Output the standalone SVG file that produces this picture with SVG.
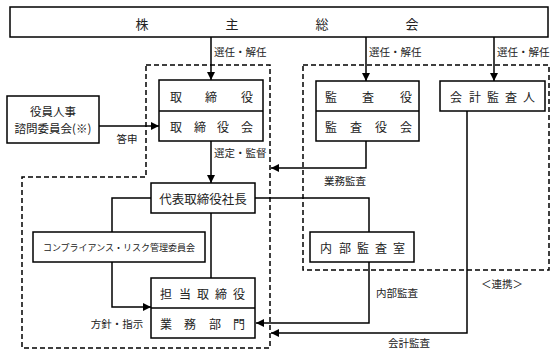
<svg xmlns="http://www.w3.org/2000/svg" width="560" height="355" viewBox="0 0 560 355">
<defs>
<marker id="ah" markerUnits="userSpaceOnUse" markerWidth="8" markerHeight="8" viewBox="0 0 8 8" refX="8" refY="4" orient="auto">
<path d="M0,0 L8,4 L0,8 Z" fill="#000"/>
</marker>
<style>
.box{fill:#fff;stroke:#000;stroke-width:1.5}
.dash{fill:none;stroke:#000;stroke-width:1.5;stroke-dasharray:5 3}
.ln{fill:none;stroke:#000;stroke-width:1.5}
.arr{fill:none;stroke:#000;stroke-width:1.5;marker-end:url(#ah)}
text{font-family:"Noto Sans CJK JP","Noto Sans CJK SC",sans-serif;fill:#222;dominant-baseline:central}
.t{font-size:12px;text-anchor:middle}
.tt{font-size:13px;text-anchor:middle}
.lb{font-size:10.5px}
.lbm{font-size:10.5px;text-anchor:middle}
.sm{font-size:9px;text-anchor:middle}
</style>
</defs>
<rect width="560" height="355" fill="#fff"/>
<g id="dashed">
<path class="dash" d="M146,65 H270 V348 H22 V177 H146 Z"/>
<rect class="dash" x="303" y="65" width="246" height="205"/>
</g>
<g id="connectors">
<path class="arr" d="M211,37 V80"/>
<path class="arr" d="M366,37 V81"/>
<path class="arr" d="M494,37 V81"/>
<path class="arr" d="M99,126 H159"/>
<path class="arr" d="M211,141 V183"/>
<path class="arr" d="M366,141 V168 H271"/>
<path class="ln" d="M255,198 H369 V232"/>
<path class="ln" d="M211,213 V278"/>
<path class="ln" d="M151,198 H112 V232"/>
<path class="arr" d="M112,262 V307 H151"/>
<path class="arr" d="M369,262 V323 H256"/>
<path class="arr" d="M467,111 V333 H271"/>
</g>
<g id="labels">
<text class="lb" x="214" y="51">選任・解任</text>
<text class="lb" x="369" y="51">選任・解任</text>
<text class="lb" x="497" y="51">選任・解任</text>
<text class="lbm" x="127" y="138">答申</text>
<text class="lb" x="214" y="152">選定・監督</text>
<text class="lbm" x="345" y="180">業務監査</text>
<text class="lbm" x="117" y="323">方針・指示</text>
<text class="lbm" x="397" y="292">内部監査</text>
<text class="lbm" x="409" y="342">会計監査</text>
<text class="lbm" x="502" y="283">＜連携＞</text>
</g>
<g id="shareholders">
<rect class="box" x="10" y="7" width="538" height="30"/>
<text class="tt" x="142 232 322 412" y="23">株主総会</text>
</g>
<g id="board">
<rect class="box" x="159" y="80" width="104" height="61"/>
<line class="ln" x1="159" y1="111" x2="263" y2="111"/>
<text class="t" x="176 211 247" y="96">取締役</text>
<text class="t" x="176 200 223 247" y="126">取締役会</text>
</g>
<g id="auditors">
<rect class="box" x="316" y="81" width="103" height="60"/>
<line class="ln" x1="316" y1="111" x2="419" y2="111"/>
<text class="t" x="331 368 406" y="96">監査役</text>
<text class="t" x="331 356 381 406" y="126">監査役会</text>
</g>
<g id="accounting-auditor">
<rect class="box" x="440" y="81" width="105" height="30"/>
<text class="t" x="456 475 493 511 529" y="96">会計監査人</text>
</g>
<g id="nomination-committee">
<rect class="box" x="7" y="96" width="92" height="47"/>
<text class="t" x="53" y="111" style="font-size:11.5px">役員人事</text>
<text class="t" x="53" y="128" style="font-size:11.5px">諮問委員会(※)</text>
</g>
<g id="president">
<rect class="box" x="151" y="183" width="104" height="30"/>
<text class="t" x="203" y="198" style="font-size:12.5px">代表取締役社長</text>
</g>
<g id="compliance">
<rect class="box" x="33" y="232" width="172" height="30"/>
<text class="sm" x="119" y="247">コンプライアンス・リスク管理委員会</text>
</g>
<g id="internal-audit">
<rect class="box" x="310" y="232" width="104" height="30"/>
<text class="t" x="326 345 363 381 399" y="247">内部監査室</text>
</g>
<g id="business">
<rect class="box" x="151" y="278" width="104" height="60"/>
<line class="ln" x1="151" y1="308" x2="255" y2="308"/>
<text class="t" x="166 185 203 221 239" y="293">担当取締役</text>
<text class="t" x="166 190 215 239" y="323">業務部門</text>
</g>
</svg>
